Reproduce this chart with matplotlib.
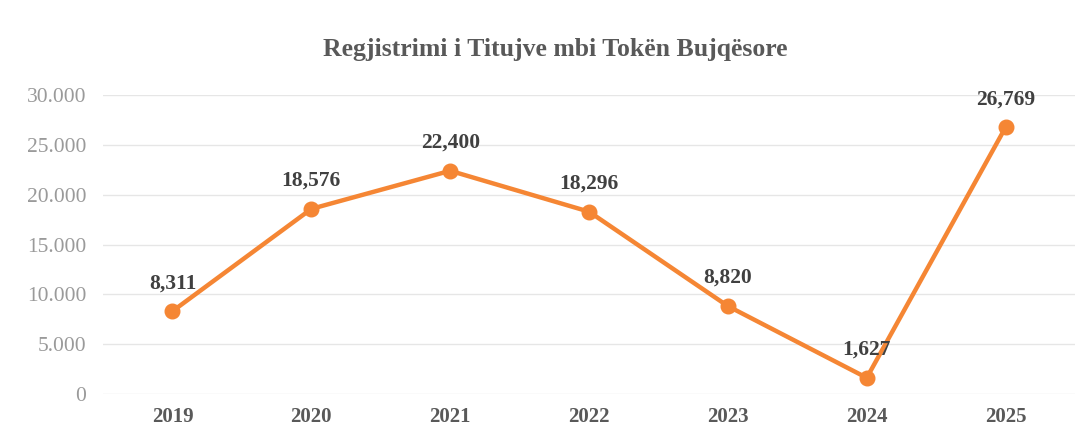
import matplotlib.pyplot as plt
from matplotlib.ticker import FuncFormatter

# data
years = ["2019", "2020", "2021", "2022", "2023", "2024", "2025"]
titles = [8311, 18576, 22400, 18296, 8820, 1627, 26769]
yticks = [0, 5000, 10000, 15000, 20000, 25000, 30000]

plt.rcParams["font.family"] = ["Liberation Serif", "DejaVu Serif"]

fig = plt.figure(figsize=(10.87, 4.40), dpi=100)
ax = fig.add_axes([0.0948, 0.1045, 0.8942, 0.6795])

x = range(len(years))
ax.plot(x, titles, color="#F58634", linewidth=3.2, marker="o",
        markersize=10.5, solid_capstyle="round", zorder=3)

for xi, v in zip(x, titles):
    ax.annotate(f"{v:,}", (xi, v), xytext=(0, 13), textcoords="offset points",
                ha="center", va="bottom", fontsize=15.5, fontweight="bold",
                color="#404040")

ax.set_xlim(-0.5, len(years) - 0.5)
ax.set_ylim(0, 30000)
ax.set_xticks(list(x))
ax.set_xticklabels(years, fontsize=15, fontweight="bold", color="#595959")
ax.set_yticks(yticks)
ax.yaxis.set_major_formatter(FuncFormatter(lambda v, p: f"{int(v):,}".replace(",", ".")))
for lbl in ax.get_yticklabels():
    lbl.set_fontsize(15.5)
    lbl.set_color("#9a9a9a")
ax.tick_params(axis="both", length=0)
ax.tick_params(axis="y", pad=12)
ax.tick_params(axis="x", pad=9)

ax.grid(axis="y", color="#e6e6e6", linewidth=1)
ax.set_axisbelow(True)
for s in ax.spines.values():
    s.set_visible(False)

fig.text(0.511, 0.888, "Regjistrimi i Titujve mbi Tokën Bujqësore", ha="center",
         va="center", fontsize=18.5, fontweight="bold", color="#595959")

fig.savefig("out.png", dpi=100)
